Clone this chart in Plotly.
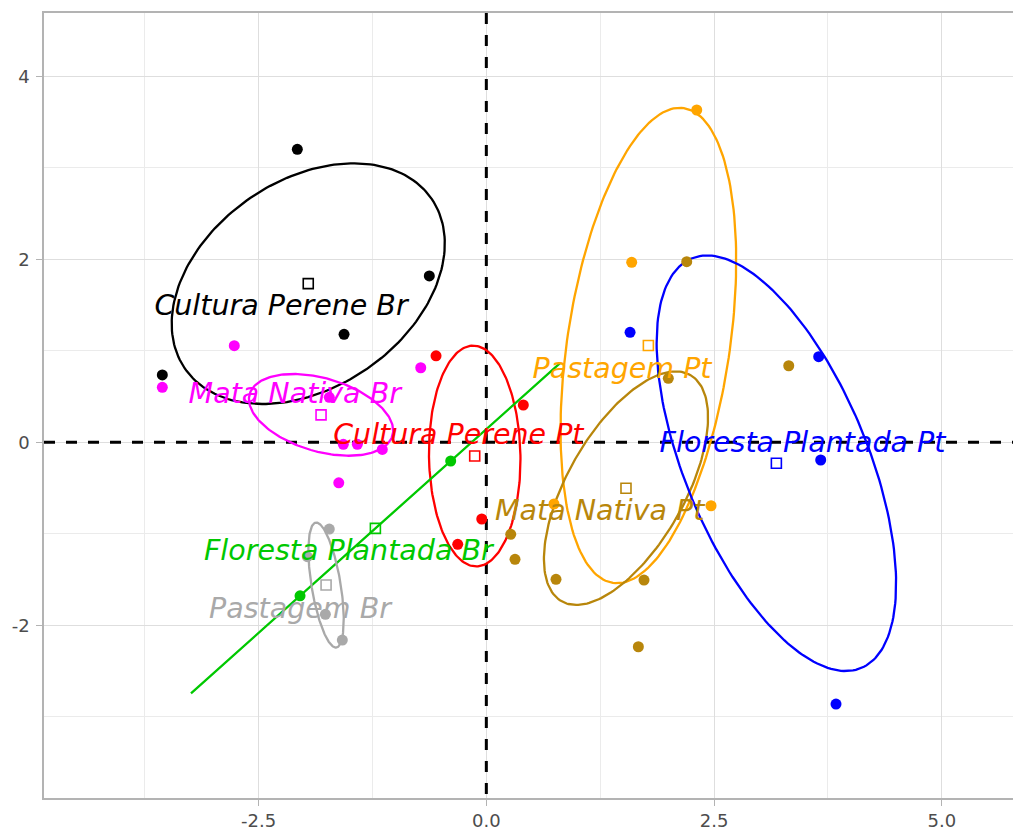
import numpy as np
import plotly.graph_objects as go

# ---------------- data ----------------
groups = ["Cultura Perene Br", "Mata Nativa Br", "Cultura Perene Pt", "Floresta Plantada Br",
          "Pastagem Br", "Pastagem Pt", "Mata Nativa Pt", "Floresta Plantada Pt"]

sample_group = (["Cultura Perene Br"] * 4 + ["Mata Nativa Br"] * 8 + ["Cultura Perene Pt"] * 4 +
                ["Floresta Plantada Br"] * 2 + ["Pastagem Br"] * 4 + ["Pastagem Pt"] * 4 +
                ["Mata Nativa Pt"] * 8 + ["Floresta Plantada Pt"] * 4)

dim1 = [-2.075, -0.626, -1.562, -3.557,
        -3.557, -2.767, -1.724, -0.720, -1.570, -1.416, -1.142, -1.620,
        -0.552, 0.406, -0.050, -0.314,
        -2.045, -0.391,
        -1.724, -1.965, -1.767, -1.581,
        2.310, 1.596, 2.467, 0.743,
        2.200, 3.320, 1.998, 0.268, 0.315, 0.765, 1.731, 1.669,
        1.578, 3.649, 3.671, 3.839]

dim2 = [3.202, 1.818, 1.180, 0.736,
        0.601, 1.056, 0.492, 0.815, -0.022, -0.022, -0.077, -0.442,
        0.946, 0.408, -0.838, -1.115,
        -1.677, -0.204,
        -0.948, -1.250, -1.880, -2.161,
        3.632, 1.967, -0.693, -0.674,
        1.974, 0.837, 0.699, -1.005, -1.279, -1.497, -1.505, -2.234,
        1.202, 0.936, -0.193, -2.860]

label_x = [-2.254, -2.103, -0.307, -1.515, -2.045, 1.490, 1.245, 3.471]
label_y = [1.471, 0.509, 0.061, -1.207, -1.841, 0.782, -0.770, -0.023]

x_tickvals = [-2.5, 0.0, 2.5, 5.0]
x_ticktext = ["-2.5", "0.0", "2.5", "5.0"]
y_tickvals = [-2, 0, 2, 4]
y_ticktext = ["-2", "0", "2", "4"]

X_RANGE = [-4.856, 5.782]
Y_RANGE = [-3.887, 4.692]

CHI2_95_2DF = 5.991464547  # 95% confidence ellipse of the group mean
REF = 0.0

# ---------------- style ----------------
colors = {
    "Cultura Perene Br": "#000000",
    "Mata Nativa Br": "#FF00FF",
    "Cultura Perene Pt": "#FF0000",
    "Floresta Plantada Br": "#00C800",
    "Pastagem Br": "#A9A9A9",
    "Pastagem Pt": "#FFA500",
    "Mata Nativa Pt": "#B8860B",
    "Floresta Plantada Pt": "#0000FF",
}

dim1 = np.array(dim1)
dim2 = np.array(dim2)
sg = np.array(sample_group)

fig = go.Figure()
t = np.linspace(0, 2 * np.pi, 201)

# reference dashed lines (as traces, above the grid)
dash_line = dict(color="black", width=3.0, dash="11px,11px")
fig.add_trace(go.Scatter(x=X_RANGE, y=[REF, REF], mode="lines", line=dash_line,
                         hoverinfo="skip", showlegend=False, cliponaxis=True))
fig.add_trace(go.Scatter(x=[REF, REF], y=Y_RANGE[::-1], mode="lines", line=dash_line,
                         hoverinfo="skip", showlegend=False, cliponaxis=True))

# ellipses
for g in groups:
    m = sg == g
    x, y = dim1[m], dim2[m]
    n = len(x)
    cx, cy = x.mean(), y.mean()
    S = np.cov(x, y, ddof=1) * CHI2_95_2DF / n
    vals, vecs = np.linalg.eigh(S)
    vals = np.clip(vals, 0, None)
    pts = vecs @ np.diag(np.sqrt(vals)) @ np.vstack([np.cos(t), np.sin(t)])
    fig.add_trace(go.Scatter(x=cx + pts[0], y=cy + pts[1], mode="lines",
                             line=dict(color=colors[g], width=2.3),
                             hoverinfo="skip", showlegend=False))

# points
for g in groups:
    m = sg == g
    fig.add_trace(go.Scatter(x=dim1[m], y=dim2[m], mode="markers",
                             marker=dict(color=colors[g], size=11, line=dict(width=0)),
                             name=g, showlegend=False))

# centroids
for g in groups:
    m = sg == g
    fig.add_trace(go.Scatter(x=[dim1[m].mean()], y=[dim2[m].mean()], mode="markers",
                             marker=dict(symbol="square-open", color=colors[g], size=10,
                                         line=dict(width=1.6, color=colors[g])),
                             showlegend=False, hoverinfo="skip"))

# labels
for i, g in enumerate(groups):
    fig.add_trace(go.Scatter(x=[label_x[i]], y=[label_y[i]], mode="text", text=[g],
                             textposition="middle center",
                             textfont=dict(family="DejaVu Sans", size=28.5, color=colors[g],
                                           style="italic"),
                             showlegend=False, hoverinfo="skip"))

axis_font = dict(family="DejaVu Sans", size=18, color="#4D4D4D")
fig.update_layout(
    width=1013, height=830,
    margin=dict(l=44, r=0, t=13, b=32, autoexpand=False),
    paper_bgcolor="white", plot_bgcolor="white",
    showlegend=False,
    xaxis=dict(range=X_RANGE, tickvals=x_tickvals, ticktext=x_ticktext,
               showgrid=True, gridcolor="#DEDEDE", gridwidth=1.4, zeroline=False,
               minor=dict(tickvals=[-3.75, -1.25, 1.25, 3.75], showgrid=True,
                          gridcolor="#EBEBEB", gridwidth=1),
               showline=True, linecolor="#B3B3B3", linewidth=1.6, mirror=True,
               ticks="outside", ticklen=6, tickcolor="#B3B3B3", tickwidth=1.4,
               tickfont=axis_font),
    yaxis=dict(range=Y_RANGE, tickvals=y_tickvals, ticktext=y_ticktext,
               showgrid=True, gridcolor="#DEDEDE", gridwidth=1.4, zeroline=False,
               minor=dict(tickvals=[-3, -1, 1, 3], showgrid=True,
                          gridcolor="#EBEBEB", gridwidth=1),
               showline=True, linecolor="#B3B3B3", linewidth=1.6,
               ticks="outside", ticklen=6, tickcolor="#B3B3B3", tickwidth=1.4,
               ticklabelstandoff=3, tickfont=axis_font),
)

fig.write_html("out.html", config={"displayModeBar": False},
               post_script="document.body.style.margin='0px';")
